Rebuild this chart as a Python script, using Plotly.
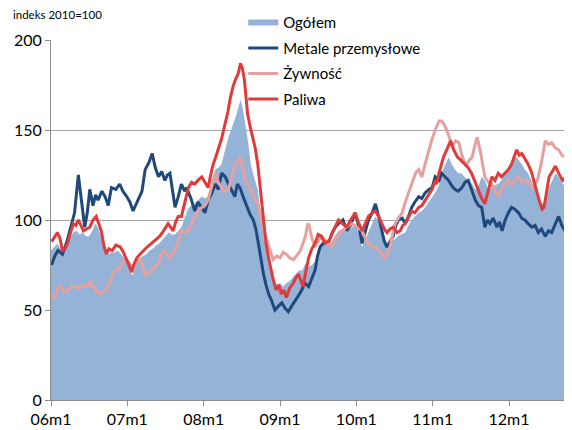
import plotly.graph_objects as go

# x = months since 2006m1
tick_vals = [0, 12, 24, 36, 48, 60, 72]
tick_labels = ["06m1", "07m1", "08m1", "09m1", "10m1", "11m1", "12m1"]

ogolem_m = [0, 0.5, 1.0, 1.5, 2.0, 2.5, 3.0, 3.5, 4.0, 4.5, 5.0, 5.5, 6.0, 6.5, 7.0, 7.5, 8.0, 8.5, 9.0, 9.5,
            10.0, 10.5, 11.0, 11.5, 12.0, 12.5, 12.8, 13.2, 13.6, 14.0, 14.5, 15.0, 15.5, 16.0, 16.5, 17.0, 17.5,
            18.0, 18.5, 19.0, 19.5, 20.0, 20.5, 21.0, 21.5, 22.0, 22.6, 23.1, 23.7, 24.2, 24.7, 25.2, 25.8, 26.3,
            26.8, 27.3, 27.9, 28.4, 29.0, 29.4, 29.8, 30.2, 30.6, 31.0, 31.4, 31.9, 32.5, 32.9, 33.3, 33.7, 34.1,
            34.6, 35.0, 35.5, 36.0, 36.5, 37.0, 37.5, 38.0, 38.5, 39.0, 39.5, 40.0, 40.5, 41.0, 41.5, 42.0, 42.5,
            43.2, 44.0, 44.6, 45.2, 45.9, 46.5, 47.1, 47.8, 48.4, 48.9, 49.4, 50.0, 50.5, 51.0, 51.5, 52.0, 52.5,
            53.0, 53.5, 54.0, 54.5, 55.0, 55.7, 56.2, 56.7, 57.2, 57.8, 58.3, 58.8, 59.4, 60.0, 60.5, 61.0, 61.4,
            62.0, 62.5, 63.0, 63.5, 64.0, 64.5, 65.0, 65.6, 66.2, 66.7, 67.2, 67.7, 68.2, 68.6, 69.0, 69.5, 70.3,
            70.8, 71.3, 71.9, 72.4, 72.8, 73.2, 73.6, 74.0, 74.5, 75.0, 75.5, 76.1, 76.6, 77.0, 77.5, 78.0, 78.3,
            78.8, 79.3, 79.8, 80.4, 80.9, 81.4, 81.9]
ogolem_v = [83, 85, 87, 84, 82, 85, 90, 93, 94, 92, 93, 91, 91, 94, 98, 95, 89, 83, 81, 82,
            82, 83, 81, 79, 76, 72, 69, 74, 77, 79, 80, 81, 83, 84, 86, 87, 89,
            91, 93, 92, 92, 94, 96, 101, 106, 108, 109, 111, 113, 112, 113, 120, 128, 129,
            131, 138, 146, 151, 157, 162, 167, 161, 152, 143, 131, 124, 117, 106, 94, 86, 78,
            71, 67, 64, 65, 63, 65, 66, 68, 70, 72, 72, 76, 74, 75, 77, 83, 87,
            86, 87, 91, 94, 95, 93, 95, 98, 92, 85, 89, 94, 98, 102, 99, 93, 89,
            87, 89, 89, 91, 92, 93, 97, 100, 102, 104, 105, 107, 110, 113, 116, 119, 126,
            131, 135, 131, 128, 126, 126, 124, 122, 120, 117, 119, 124, 122, 118, 117, 119, 120,
            122, 126, 129, 131, 134, 135, 133, 131, 128, 126, 122, 117, 112, 109, 110, 114, 118,
            122, 126, 124, 120, 119, 118, 117]

metale_m = [0.1, 0.6, 1.1, 1.8, 2.5, 3.2, 3.7, 4.3, 4.7, 5.3, 5.7, 6.1, 6.6, 7.0, 7.4, 8.0, 8.5, 9.0, 9.5, 10.2,
            10.8, 11.3, 11.9, 12.4, 12.9, 13.3, 13.7, 14.3, 14.8, 15.4, 15.9, 16.4, 16.9, 17.4, 17.9, 18.3, 18.7,
            19.1, 19.5, 20.0, 20.5, 21.0, 21.3, 22.0, 22.6, 23.1, 23.7, 24.2, 24.7, 25.3, 25.8, 26.3, 26.8, 27.4,
            27.9, 28.4, 28.9, 29.3, 29.7, 30.3, 30.8, 31.3, 31.8, 32.2, 32.6, 33.0, 33.4, 33.8, 34.2, 34.7, 35.2,
            35.7, 36.3, 36.8, 37.3, 37.8, 38.4, 38.9, 39.4, 39.9, 40.5, 41.0, 41.5, 41.9, 42.3, 43.0, 43.6, 44.2,
            44.7, 45.2, 45.9, 46.5, 47.1, 47.8, 48.4, 48.9, 49.4, 49.9, 50.5, 51.0, 51.5, 52.0, 52.4, 52.8, 53.3,
            53.8, 54.2, 54.6, 55.2, 55.7, 56.2, 56.7, 57.2, 57.8, 58.3, 58.8, 59.4, 59.9, 60.4, 61.0, 61.4, 62.0,
            62.5, 63.0, 63.5, 64.0, 64.6, 65.1, 65.6, 66.2, 66.7, 67.2, 67.7, 68.2, 68.6, 69.0, 69.5, 70.1, 70.5,
            70.9, 71.4, 71.9, 72.4, 72.9, 73.5, 74.0, 74.5, 75.0, 75.6, 76.1, 76.6, 77.1, 77.7, 78.2, 78.7, 79.3,
            79.8, 80.3, 80.8, 81.3, 81.9]
metale_v = [75, 80, 83, 81, 88, 98, 104, 125, 112, 96, 104, 117, 108, 114, 111, 116, 113, 108, 118, 117,
            120, 116, 113, 110, 105, 108, 111, 116, 128, 132, 137, 129, 124, 127, 122, 125, 126,
            116, 107, 113, 120, 116, 118, 112, 105, 110, 107, 104, 111, 115, 120, 117, 126, 124,
            120, 116, 113, 120, 118, 112, 107, 103, 100, 95, 87, 78, 70, 64, 59, 55, 50,
            52, 54, 51, 49, 52, 55, 58, 61, 65, 63, 68, 72, 80, 85, 88, 87, 93,
            96, 98, 100, 94, 97, 104, 96, 87, 93, 100, 104, 109, 102, 94, 88, 85, 88,
            91, 97, 100, 101, 98, 102, 107, 110, 113, 112, 115, 117, 118, 124, 122, 126, 124,
            122, 119, 117, 116, 118, 121, 122, 116, 111, 108, 107, 96, 100, 98, 101, 96, 99,
            94, 100, 104, 107, 106, 104, 101, 100, 98, 96, 97, 93, 95, 91, 94, 93, 98,
            102, 97, 94, 95, 94]

zywnosc_m = [0.1, 0.6, 1.1, 1.6, 2.1, 2.6, 3.2, 3.7, 4.2, 4.7, 5.2, 5.7, 6.1, 6.6, 7.1, 7.6, 8.2, 8.6, 9.0, 9.4,
             9.8, 10.3, 10.9, 11.4, 11.9, 12.3, 12.7, 13.3, 14.0, 14.4, 14.8, 15.3, 15.8, 16.4, 16.9, 17.3, 17.7,
             18.2, 18.7, 19.2, 19.7, 20.1, 20.5, 21.0, 21.6, 22.1, 22.6, 23.1, 23.7, 24.2, 24.7, 25.2, 25.8, 26.3,
             26.8, 27.3, 27.9, 28.4, 29.0, 29.4, 29.8, 30.2, 30.6, 31.0, 31.4, 32.0, 32.5, 32.9, 33.3, 33.7, 34.1,
             34.5, 34.9, 35.5, 36.0, 36.5, 37.0, 37.5, 38.1, 38.6, 39.2, 39.6, 40.0, 40.3, 40.5, 41.0, 41.5, 42.0,
             42.5, 43.3, 44.1, 44.9, 45.7, 46.5, 47.3, 48.1, 48.9, 49.4, 49.9, 50.5, 51.2, 51.8, 52.5, 52.9, 53.3,
             53.7, 54.1, 54.6, 55.2, 55.7, 56.2, 56.7, 57.3, 57.8, 58.3, 58.8, 59.4, 59.9, 60.4, 61.0, 61.4, 61.8,
             62.2, 62.6, 63.1, 63.6, 64.1, 64.6, 65.2, 65.7, 66.2, 66.6, 67.0, 67.5, 68.2, 68.7, 69.3, 69.8, 70.3,
             70.8, 71.3, 71.9, 72.4, 72.9, 73.5, 74.1, 74.8, 75.3, 75.8, 76.2, 76.6, 77.1, 77.7, 78.2, 78.7, 79.3,
             79.8, 80.3, 80.8, 81.3, 81.9]
zywnosc_v = [58, 57, 62, 63, 60, 61, 63, 63, 62, 63, 64, 63, 66, 63, 61, 59, 60, 61, 63, 67,
             71, 72, 74, 77, 78, 76, 74, 76, 78, 74, 69, 71, 72, 74, 76, 80, 83,
             81, 79, 82, 85, 89, 94, 93, 94, 98, 102, 105, 107, 108, 111, 118, 126, 121,
             118, 116, 117, 124, 131, 133, 135, 128, 122, 119, 117, 112, 109, 103, 96, 91, 87,
             82, 78, 80, 79, 82, 81, 79, 78, 80, 83, 87, 91, 97, 98, 90, 85, 88,
             91, 88, 85, 90, 94, 96, 98, 96, 94, 90, 87, 85, 85, 82, 79, 82, 85,
             92, 98, 101, 104, 110, 115, 120, 126, 128, 124, 131, 139, 145, 150, 155, 155, 153,
             150, 146, 141, 144, 143, 136, 130, 133, 135, 141, 146, 138, 124, 121, 120, 116, 113,
             117, 120, 122, 120, 122, 124, 121, 122, 120, 117, 120, 124, 132, 144, 142, 143, 140,
             139, 136, 135, 134, 133]

paliwa_m = [0.1, 0.5, 1.0, 1.4, 1.8, 2.2, 2.6, 3.0, 3.5, 3.9, 4.3, 4.7, 5.1, 5.6, 6.1, 6.6, 7.1, 7.5, 7.9, 8.3,
            8.7, 9.1, 9.6, 10.2, 10.9, 11.4, 11.9, 12.3, 12.7, 13.1, 13.5, 14.0, 14.5, 15.1, 15.8, 16.4, 17.1,
            17.7, 18.4, 18.8, 19.2, 19.6, 20.0, 20.5, 21.0, 21.6, 22.1, 22.6, 23.1, 23.7, 24.2, 24.7, 25.1, 25.5,
            25.9, 26.3, 26.8, 27.4, 27.8, 28.2, 28.6, 29.0, 29.4, 29.8, 30.1, 30.4, 30.7, 30.9, 31.3, 31.7, 32.1,
            32.5, 32.9, 33.3, 33.5, 33.8, 34.2, 34.6, 35.0, 35.4, 35.8, 36.2, 36.6, 37.0, 37.5, 38.1, 38.5, 38.9,
            39.3, 39.6, 40.1, 40.5, 41.0, 41.5, 42.0, 42.5, 43.1, 43.8, 44.5, 45.2, 45.8, 46.5, 47.1, 47.8, 48.3,
            48.9, 49.4, 49.9, 50.5, 51.0, 51.5, 52.0, 52.4, 52.8, 53.3, 53.8, 54.4, 54.9, 55.3, 55.7, 56.2, 56.7,
            57.2, 57.8, 58.3, 58.8, 59.4, 59.9, 60.3, 60.6, 61.0, 61.3, 61.7, 62.2, 62.8, 63.3, 63.9, 64.5, 65.1,
            65.6, 66.1, 66.7, 67.2, 67.7, 68.2, 68.7, 69.3, 69.8, 70.3, 70.8, 71.3, 71.9, 72.4, 72.8, 73.2, 73.6,
            74.0, 74.5, 75.0, 75.5, 76.1, 76.5, 76.9, 77.2, 77.5, 77.9, 78.3, 78.8, 79.3, 79.8, 80.4, 80.9, 81.4,
            81.9]
paliwa_v = [88, 90, 93, 90, 83, 84, 87, 92, 98, 97, 100, 97, 94, 95, 96, 100, 102, 98, 94, 86,
            81, 84, 83, 86, 85, 82, 78, 74, 71, 76, 79, 81, 83, 85, 87, 89, 91,
            94, 98, 96, 94, 99, 102, 102, 110, 118, 121, 120, 122, 124, 121, 118, 125, 131,
            135, 139, 145, 154, 160, 168, 174, 178, 181, 187, 184, 178, 168, 159, 152, 146, 140,
            131, 118, 104, 95, 87, 79, 72, 66, 61, 64, 59, 61, 57, 62, 65, 68, 70,
            66, 63, 72, 79, 84, 87, 92, 91, 87, 89, 95, 100, 98, 96, 100, 104, 99,
            94, 98, 102, 104, 105, 102, 98, 95, 93, 95, 96, 93, 94, 97, 98, 102, 105,
            104, 107, 108, 111, 114, 117, 121, 120, 126, 130, 135, 139, 144, 139, 135, 133, 131,
            129, 126, 121, 117, 112, 109, 116, 124, 122, 126, 124, 126, 128, 131, 135, 139, 136,
            137, 134, 131, 127, 120, 114, 109, 106, 107, 116, 124, 127, 130, 126, 122, 124, 124,
            122]

fig = go.Figure()

# Ogółem as shaded area
fig.add_trace(go.Scatter(
    name="Ogółem", x=ogolem_m, y=ogolem_v, mode="none",
    fill="tozeroy", fillcolor="#95B3D7", legendgroup="a",
))
fig.add_trace(go.Scatter(
    name="Metale przemysłowe", x=metale_m, y=metale_v, mode="lines",
    line=dict(color="#1F497D", width=3), legendgroup="b",
))
fig.add_trace(go.Scatter(
    name="Żywność", x=zywnosc_m, y=zywnosc_v, mode="lines",
    line=dict(color="#E6A0A0", width=3), legendgroup="c",
))
fig.add_trace(go.Scatter(
    name="Paliwa", x=paliwa_m, y=paliwa_v, mode="lines",
    line=dict(color="#E03A3A", width=3), legendgroup="d",
))

fig.add_annotation(
    text="indeks 2010=100", xref="paper", yref="paper", x=-0.077, y=1.07,
    xanchor="left", yanchor="middle", showarrow=False,
    font=dict(size=11.5, color="#000000"),
)

# page body adds an 8px offset, so margins are shifted to compensate
fig.update_layout(
    width=572, height=430,
    margin=dict(l=43, r=8, t=32, b=38, autoexpand=False),
    paper_bgcolor="white", plot_bgcolor="white",
    font=dict(family="Lato, Arial, sans-serif", color="#000000"),
    showlegend=True,
    legend=dict(
        x=0.369, y=1.094, xanchor="left", yanchor="top",
        bgcolor="rgba(0,0,0,0)", font=dict(size=15),
        tracegroupgap=3, itemwidth=30,
    ),
    xaxis=dict(
        range=[0, 81.9], tickvals=tick_vals, ticktext=tick_labels,
        showgrid=False, showline=True, linecolor="#8c8c8c", linewidth=1,
        ticks="outside", ticklen=5, tickcolor="#8c8c8c",
        tickfont=dict(size=16), zeroline=False,
    ),
    yaxis=dict(
        range=[0, 200], tickvals=[0, 50, 100, 150, 200],
        showgrid=True, gridcolor="#a6a6a6", gridwidth=1,
        showline=True, linecolor="#8c8c8c", linewidth=1,
        ticks="outside", ticklen=5, tickcolor="#8c8c8c",
        tickfont=dict(size=16), zeroline=False,
    ),
)

fig.write_html("out.html")
